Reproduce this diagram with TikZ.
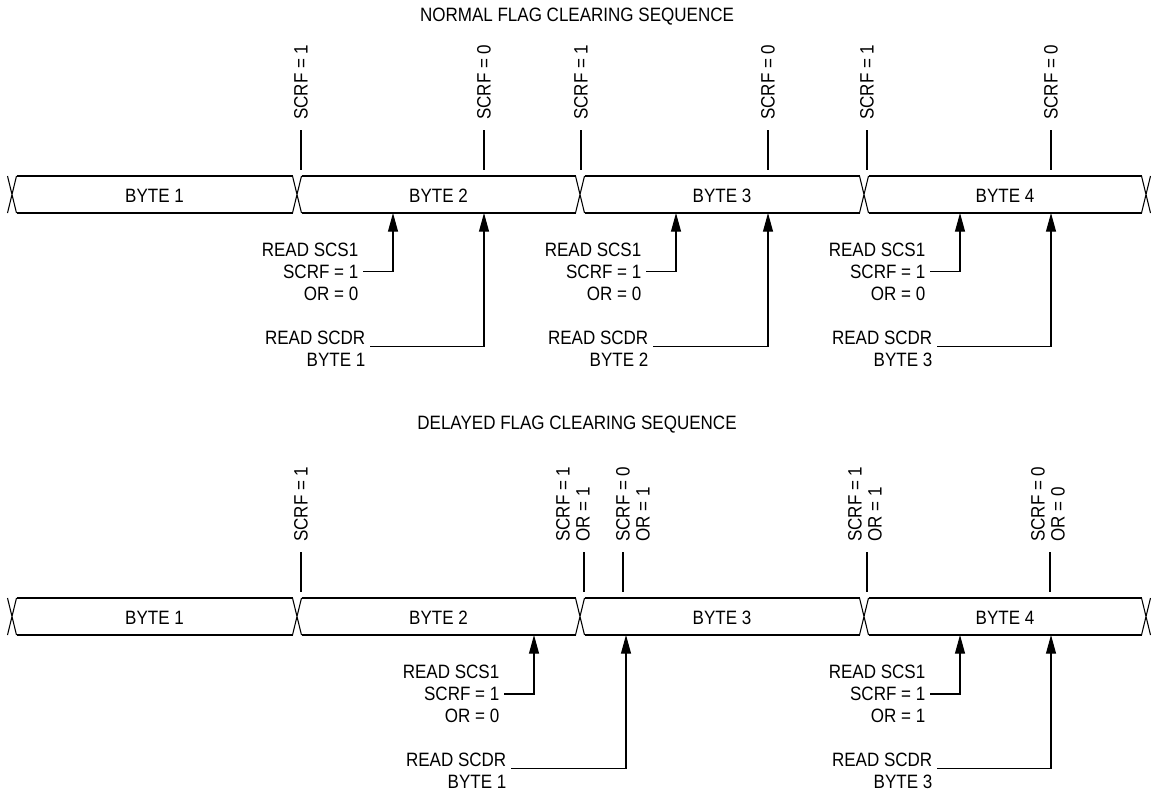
\documentclass[tikz,border=0pt]{standalone}
\usepackage{fontspec}
\setmainfont{Liberation Sans}[FakeStretch=0.88]
\usetikzlibrary{arrows.meta, positioning}
\tikzset{
    lbl/.style      ={font=\fontsize{14.5}{16.5}\selectfont, align=right},
    flag/.style     ={font=\fontsize{14.5}{15}\selectfont, rotate=90, anchor=west, align=left},
    tick/.style     ={line width=0.8pt},
    bus/.style      ={line width=1.5pt},
    xing/.style     ={line width=0.8pt},
    readarrow/.style={line width=0.8pt, -{Triangle[length=14pt, width=7.5pt]}},
}

\begin{document}
\begin{tikzpicture}[x=0.75pt, y=-0.75pt]
\useasboundingbox (0,0) rectangle (1151,790);

% normal flag clearing
\node[lbl] (ntitle) at (577,17) {NORMAL FLAG CLEARING SEQUENCE};
\begin{scope}[shift={(0,194.5)}]
    \foreach \a/\b in {12/297, 297/580, 580/864, 864/1146} {
        \draw[bus] (\a+4.5,-18.5) -- (\b-4.5,-18.5);
        \draw[bus] (\a+4.5,18.5) -- (\b-4.5,18.5);
    }
    \foreach \c in {12, 297, 580, 864, 1146}
        \draw[xing] (\c-4.5,-18.5) -- (\c+4.5,18.5) (\c-4.5,18.5) -- (\c+4.5,-18.5);
    \foreach \n/\x in {1/154.5, 2/438.5, 3/722, 4/1005}
        \node[lbl] (nb\n) at (\x,1) {BYTE \n};
    \foreach \x/\v in {301/1, 484/0, 581/1, 768/0, 867/1, 1051/0} {
        \draw[tick] (\x,-64.5) -- (\x,-25);
        \node[flag] (nf\x) at (\x,-70) {SCRF = \v};
    }
    \foreach \s/\d/\k/\o in {393/484/1/0, 676/768/2/0, 960/1051/3/0} {
        \node[lbl, anchor=east] (ns\k) at (\s-30,77) {READ SCS1\\SCRF = 1\\OR = \o};
        \coordinate (nsa\k) at (\s,18.5);
        \draw[readarrow] (ns\k.east) -| (nsa\k);
        \node[lbl, anchor=east] (nd\k) at (\s-23,154.5) {READ SCDR\\BYTE \k};
        \coordinate (nda\k) at (\d,18.5);
        \draw[readarrow] ([yshift=1.7pt]nd\k.east) -| (nda\k);
    }
\end{scope}

% delayed flag clearing
\node[lbl] (dtitle) at (577,425) {DELAYED FLAG CLEARING SEQUENCE};
\begin{scope}[shift={(0,616.5)}]
    \foreach \a/\b in {12/297, 297/580, 580/864, 864/1146} {
        \draw[bus] (\a+4.5,-18.5) -- (\b-4.5,-18.5);
        \draw[bus] (\a+4.5,18.5) -- (\b-4.5,18.5);
    }
    \foreach \c in {12, 297, 580, 864, 1146}
        \draw[xing] (\c-4.5,-18.5) -- (\c+4.5,18.5) (\c-4.5,18.5) -- (\c+4.5,-18.5);
    \foreach \n/\x in {1/154.5, 2/438.5, 3/722, 4/1005}
        \node[lbl] (db\n) at (\x,1) {BYTE \n};
    \draw[tick] (301,-64.5) -- (301,-25);
    \node[flag] (df1) at (301,-70) {SCRF = 1};
    \foreach \x/\t/\f/\r [count=\i from 2] in {584/573/1/1, 623/633/0/1, 867/865/1/1, 1050/1048/0/0} {
        \draw[tick] (\x,-64.5) -- (\x,-25);
        \node[flag] (df\i) at (\t,-70) {SCRF = \f\\OR = \r};
    }
    \foreach \s/\d/\k/\o in {534/626/1/0, 960/1051/3/1} {
        \node[lbl, anchor=east] (ds\k) at (\s-30,77.5) {READ SCS1\\SCRF = 1\\OR = \o};
        \coordinate (dsa\k) at (\s,18.5);
        \draw[readarrow] (ds\k.east) -| (dsa\k);
        \node[lbl, anchor=east] (dd\k) at (\s-23,154) {READ SCDR\\BYTE \k};
        \coordinate (dda\k) at (\d,18.5);
        \draw[readarrow] ([yshift=1.2pt]dd\k.east) -| (dda\k);
    }
\end{scope}
\end{tikzpicture}
\end{document}
